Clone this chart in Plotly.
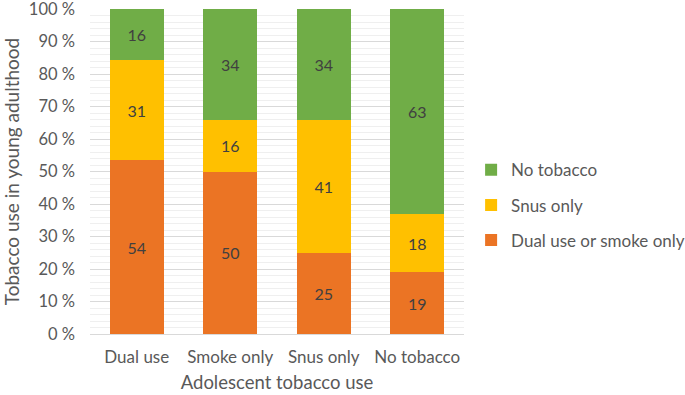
import plotly.graph_objects as go

categories = ["Dual use", "Smoke only", "Snus only", "No tobacco"]
dual_or_smoke = [54, 50, 25, 19]
snus_only = [31, 16, 41, 18]
no_tobacco = [16, 34, 34, 63]
tick_vals = [0, 10, 20, 30, 40, 50, 60, 70, 80, 90, 100]
tick_labels = [f"{v} %" for v in tick_vals]

FONT = "Lato, Open Sans, sans-serif"
GREY = "#595959"
fig = go.Figure()
series = [
    ("Dual use or smoke only", dual_or_smoke, "#EB7424", "g1", 3),
    ("Snus only", snus_only, "#FFC000", "g2", 2),
    ("No tobacco", no_tobacco, "#70AD47", "g3", 1),
]
for name, vals, col, grp, rank in series:
    fig.add_trace(go.Bar(
        x=categories, y=vals, name=name, marker_color=col,
        marker_line_width=0, text=[str(v) for v in vals],
        textposition="inside", insidetextanchor="middle",
        textfont=dict(color="#404040", size=16, family=FONT),
        legendgroup=grp, legendrank=rank, hoverinfo="x+y+name",
    ))

fig.update_layout(
    width=685, height=395,
    barmode="stack", barnorm="percent", bargap=0.42,
    plot_bgcolor="white", paper_bgcolor="white",
    margin=dict(l=90, r=221, t=9, b=61, autoexpand=False),
    font=dict(family=FONT, color=GREY, size=16),
    legend=dict(x=1.019, y=0.396, yanchor="middle", xanchor="left",
                traceorder="grouped", tracegroupgap=10,
                font=dict(size=17, color=GREY)),
    uniformtext=dict(minsize=10, mode="show"),
)
fig.update_yaxes(
    range=[0, 100], tickvals=tick_vals, ticktext=tick_labels,
    showgrid=True, gridcolor="#D9D9D9", gridwidth=1,
    minor=dict(dtick=2, showgrid=True, gridcolor="#EFEFEF"),
    title=dict(text="Tobacco use in young adulthood", font=dict(size=19, color=GREY), standoff=8),
    tickfont=dict(size=16.5, color=GREY), zeroline=False, ticks="", automargin=False,
    ticklabeloverflow="allow", ticklabelstandoff=14,
)
fig.update_xaxes(
    title=dict(text="Adolescent tobacco use", font=dict(size=18.5, color=GREY), standoff=9),
    tickfont=dict(size=17, color=GREY), showline=True, linecolor="#D9D9D9", automargin=False,
    ticklabelstandoff=8,
)
fig.write_html("out.html", config={"displayModeBar": False},
               post_script="document.body.style.margin='0';")
